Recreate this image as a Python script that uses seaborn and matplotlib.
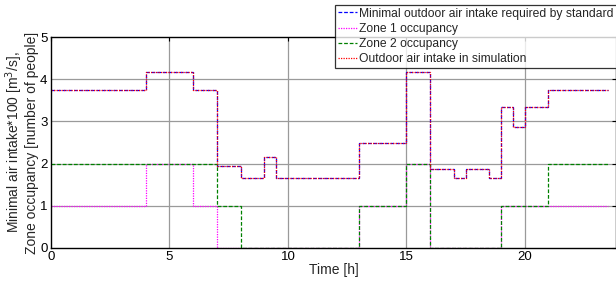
import matplotlib
matplotlib.use("Agg")
import matplotlib.pyplot as plt
import seaborn as sns

# Data (step starts; last point marks end of final step)
t_air = [0, 4, 6, 7, 8, 9, 9.5, 13, 15, 16, 17, 17.5, 18.5, 19, 19.5, 20, 21, 23.5]
min_air = [3.75, 4.17, 3.75, 1.94, 1.67, 2.15, 1.67, 2.5, 4.17, 1.88, 1.67, 1.88, 1.67, 3.33, 2.86, 3.33, 3.75, 3.75]
sim_air = [3.75, 4.17, 3.75, 1.94, 1.67, 2.15, 1.67, 2.5, 4.17, 1.88, 1.67, 1.88, 1.67, 3.33, 2.86, 3.33, 3.75, 3.75]

t_z1 = [0, 4, 6, 7, 13, 15, 16, 19, 23.5]
zone1 = [1, 2, 1, 0, 1, 2, 0, 1, 1]

t_z2 = [0, 7, 8, 13, 15, 16, 19, 21, 23.5]
zone2 = [2, 1, 0, 1, 2, 0, 1, 2, 2]

labels = ["Minimal outdoor air intake required by standard",
          "Zone 1 occupancy",
          "Zone 2 occupancy",
          "Outdoor air intake in simulation"]

sns.set_style("white")
plt.rcParams['font.family'] = ['Liberation Sans', 'DejaVu Sans']

fig = plt.figure(figsize=(6.16, 2.82), dpi=100)
ax = fig.add_axes([51/616, 1 - 248/282, (616 - 51)/616, (248 - 37)/282])

# grid
for y in [1, 2, 3, 4]:
    ax.axhline(y, color="#9a9a9a", lw=0.9, zorder=0)
for x in [5, 10, 15, 20]:
    ax.axvline(x, color="#9a9a9a", lw=0.9, zorder=0)

common = dict(drawstyle="steps-post", estimator=None, sort=False, ax=ax, lw=0.9)
sns.lineplot(x=t_air, y=min_air, color="#0000ff", linestyle=(0, (3, 1.5)), label=labels[0], **common)
sns.lineplot(x=t_z1, y=zone1, color="#ff00ff", linestyle=(0, (1, 1)), label=labels[1], **common)
sns.lineplot(x=t_z2, y=zone2, color="#008000", linestyle=(0, (3, 1.5)), label=labels[2], **common)
sns.lineplot(x=t_air, y=sim_air, color="#ff0000", linestyle=(0, (1, 1)), label=labels[3], **common)

ax.set_xlim(0, 23.85)
ax.set_ylim(0, 5)
ax.set_xticks([0, 5, 10, 15, 20])
ax.set_yticks([0, 1, 2, 3, 4, 5])
ax.tick_params(direction="in", length=3, width=0.8, top=True, right=True,
               labelsize=9.5, pad=2.5, colors="black")
for s in ax.spines.values():
    s.set_color("black")
    s.set_linewidth(1.0)

ax.set_xlabel("Time [h]", fontsize=10, labelpad=0)
ax.set_ylabel("Minimal air intake*100 [m$^3$/s],\nZone occupancy [number of people]",
              fontsize=10, labelpad=1, linespacing=1.0)

leg = ax.legend(loc="upper left", bbox_to_anchor=(335/616, 1 - 5/282), bbox_transform=fig.transFigure,
                fontsize=8.7, frameon=True, fancybox=False, edgecolor="black",
                handlelength=1.6, handletextpad=0.2, borderpad=0.22, labelspacing=0.27,
                borderaxespad=0)
leg.get_frame().set_linewidth(0.9)
leg.set_zorder(10)

fig.savefig("out.png", dpi=100)
